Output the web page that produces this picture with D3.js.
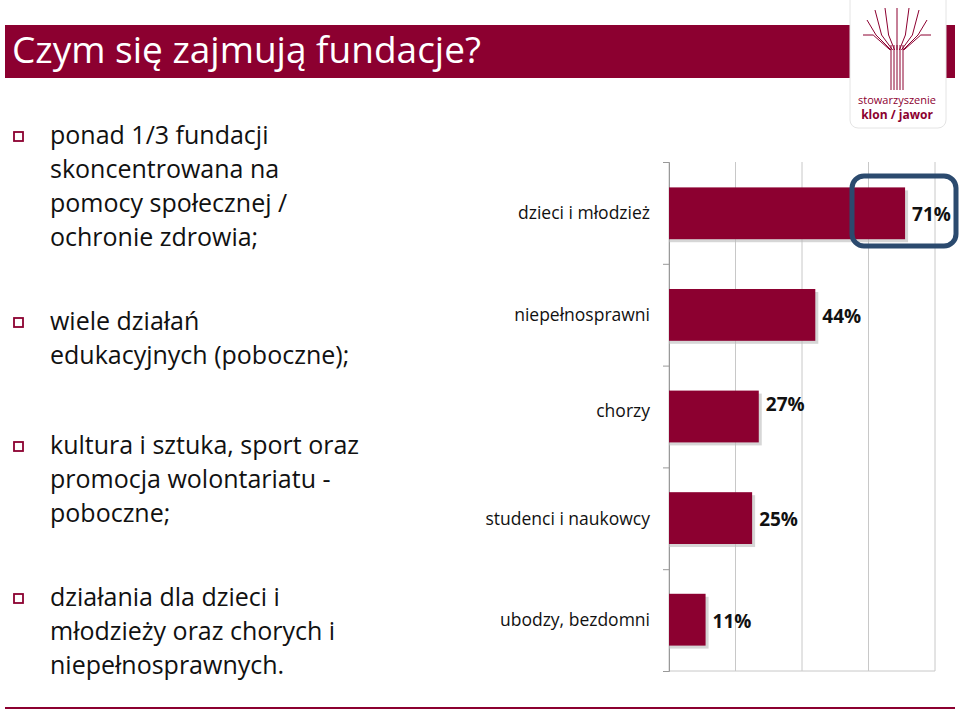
<!DOCTYPE html>
<html lang="pl">
<head>
<meta charset="utf-8">
<script src="https://cdn.jsdelivr.net/npm/d3@7"></script>
<style>
  body { margin: 0; background: #fff; }
  text { font-family: "Open Sans", "Noto Sans", sans-serif; }
</style>
</head>
<body>
<script>
var w = 960, h = 716;
var red = "#8c0030";

var categories = ["dzieci i młodzież", "niepełnosprawni", "chorzy", "studenci i naukowcy", "ubodzy, bezdomni"];
var values = [71, 44, 27, 25, 11];
var ticks = [0, 20, 40, 60, 80];

var bullets = [
  ["ponad 1/3 fundacji", "skoncentrowana na", "pomocy społecznej /", "ochronie zdrowia;"],
  ["wiele działań", "edukacyjnych (poboczne);"],
  ["kultura i sztuka, sport oraz", "promocja wolontariatu  -", "poboczne;"],
  ["działania dla dzieci i", "młodzieży oraz chorych i", "niepełnosprawnych."]
];
var bulletTops = [144, 330, 454, 606];

var svg = d3.select("body").append("svg").attr("width", w).attr("height", h);

// title banner
svg.append("rect").attr("x", 5).attr("y", 25).attr("width", 950).attr("height", 53).attr("fill", red);
svg.append("text").attr("x", 12).attr("y", 63).attr("fill", "#fff")
  .attr("font-size", 37).text("Czym się zajmują fundacje?");

// logo card
var logo = svg.append("g");
logo.append("rect").attr("x", 850).attr("y", -10).attr("width", 96).attr("height", 138).attr("rx", 8)
  .attr("fill", "#fff").attr("stroke", "#e4e4e4");
var trunk = [-6, -3, 0, 3, 6];
trunk.forEach(function(d) {
  logo.append("line").attr("x1", 897 + d).attr("x2", 897 + d).attr("y1", 45).attr("y2", 90)
    .attr("stroke", red).attr("stroke-width", 1);
});
var branches = [[-30, 20], [-22, 10], [-12, 8], [0, 8], [12, 8], [22, 10], [30, 20], [-34, 35], [34, 35]];
branches.forEach(function(b) {
  logo.append("polyline")
    .attr("points", [[897 + b[0] * 0.2, 50], [897 + b[0] * 0.7, 35], [897 + b[0], b[1]]].map(String).join(" "))
    .attr("fill", "none").attr("stroke", red).attr("stroke-width", 1);
});
logo.append("text").attr("x", 897).attr("y", 104).attr("text-anchor", "middle").attr("fill", red)
  .attr("font-size", 11).attr("font-family", "DejaVu Serif").text("stowarzyszenie");
logo.append("text").attr("x", 897).attr("y", 119).attr("text-anchor", "middle").attr("fill", red)
  .attr("font-size", 12).attr("font-weight", "bold").attr("font-family", "DejaVu Serif").text("klon / jawor");

// bullets
bullets.forEach(function(lines, i) {
  var y0 = bulletTops[i];
  svg.append("rect").attr("x", 14).attr("y", y0 - 12).attr("width", 9).attr("height", 9)
    .attr("fill", "none").attr("stroke", red).attr("stroke-width", 1.8);
  lines.forEach(function(l, j) {
    svg.append("text").attr("x", 50).attr("y", y0 + j * 34).attr("font-size", 25)
      .attr("fill", "#111").text(l);
  });
});

// chart
var x = d3.scaleLinear().domain([0, 80]).range([669, 935]);
var y = d3.scaleBand().domain(categories).range([162, 671]).paddingInner(0.49).paddingOuter(0.25);

var g = svg.append("g");
g.selectAll(".grid").data(ticks).enter().append("line")
  .attr("x1", x).attr("x2", x).attr("y1", 162).attr("y2", 671)
  .attr("stroke", "#c8c8c8").attr("stroke-width", 1);
g.append("line").attr("x1", 669).attr("x2", 935).attr("y1", 671).attr("y2", 671).attr("stroke", "#c8c8c8");

var yAxis = d3.axisLeft(d3.scaleLinear().domain([0, 5]).range([162, 671])).ticks(5).tickSize(6).tickFormat("");
g.append("g").attr("transform", "translate(669,0)").call(yAxis)
  .call(function(s) { s.selectAll("path,line").attr("stroke", "#999"); });

g.selectAll(".shadow").data(values).enter().append("rect")
  .attr("x", x(0)).attr("y", function(d, i) { return y(categories[i]) + 3; })
  .attr("width", function(d) { return x(d) - x(0) + 3; }).attr("height", y.bandwidth())
  .attr("fill", "#bbb").attr("opacity", 0.6);
g.selectAll(".bar").data(values).enter().append("rect")
  .attr("x", x(0)).attr("y", function(d, i) { return y(categories[i]); })
  .attr("width", function(d) { return x(d) - x(0); }).attr("height", y.bandwidth())
  .attr("fill", red);

var valDy = [8, 8, -6, 8, 8];
g.selectAll(".val").data(values).enter().append("text")
  .attr("x", function(d) { return x(d) + 7; })
  .attr("y", function(d, i) { return y(categories[i]) + y.bandwidth() / 2 + valDy[i]; })
  .attr("font-size", 19).attr("font-weight", "bold").attr("fill", "#111")
  .text(function(d) { return d + "%"; });

var labelY = [220, 322, 424, 526, 627];
g.selectAll(".cat").data(categories).enter().append("text")
  .attr("x", 650).attr("y", function(d, i) { return labelY[i] - 1 - (i === 2 ? 6 : 0); })
  .attr("text-anchor", "end").attr("font-size", 17.5).attr("fill", "#111")
  .text(function(d) { return d; });

// highlight box
svg.append("rect").attr("x", 852).attr("y", 176).attr("width", 104).attr("height", 70).attr("rx", 12)
  .attr("fill", "none").attr("stroke", "#2b4a6e").attr("stroke-width", 5);

// bottom rule
svg.append("line").attr("x1", 5).attr("x2", 955).attr("y1", 708).attr("y2", 708)
  .attr("stroke", red).attr("stroke-width", 2);
</script>
</body>
</html>
